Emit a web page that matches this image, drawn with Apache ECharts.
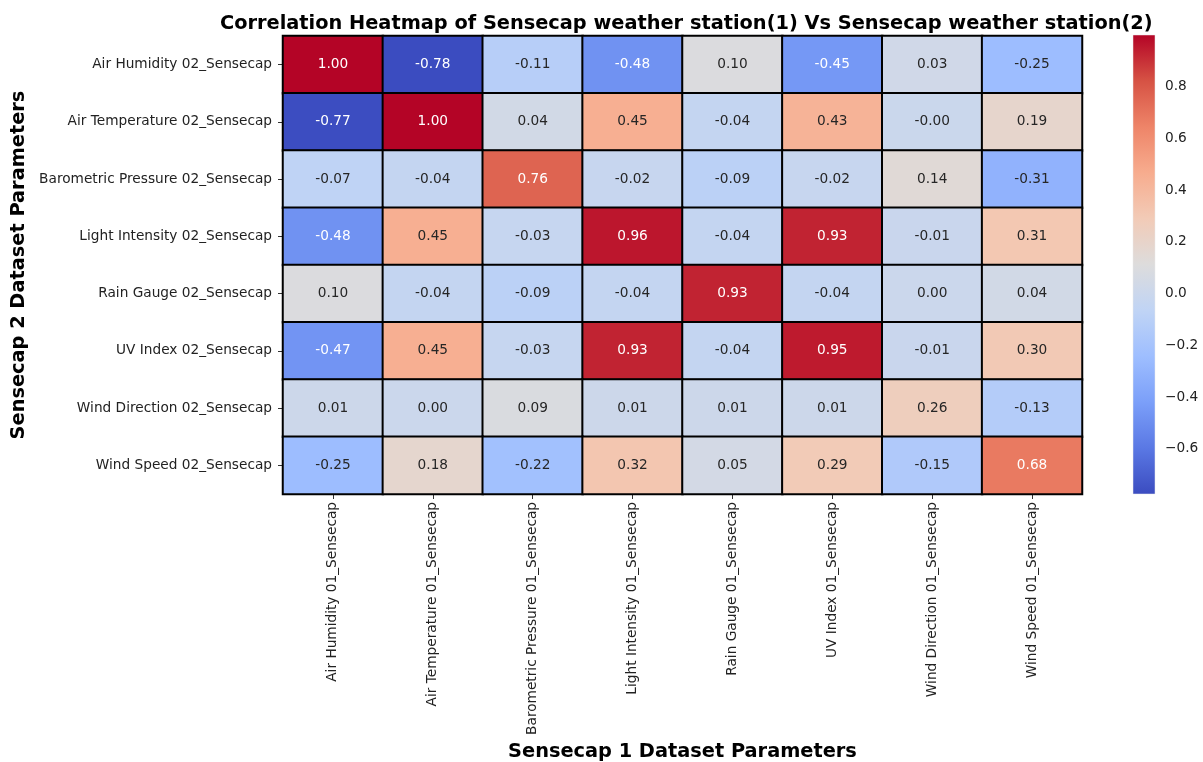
<!DOCTYPE html>
<html>
<head>
<meta charset="utf-8">
<script src="https://cdn.jsdelivr.net/npm/echarts@6/dist/echarts.min.js"></script>
<style>
  html, body { margin: 0; padding: 0; background: #fff; }
  #chart { width: 1203px; height: 762px; }
</style>
</head>
<body>
<div id="chart"></div>
<script>
// columns: Sensecap 1 parameters
var xParams = ['Air Humidity 01_Sensecap', 'Air Temperature 01_Sensecap', 'Barometric Pressure 01_Sensecap',
  'Light Intensity 01_Sensecap', 'Rain Gauge 01_Sensecap', 'UV Index 01_Sensecap',
  'Wind Direction 01_Sensecap', 'Wind Speed 01_Sensecap'];
// rows: Sensecap 2 parameters
var yParams = ['Air Humidity 02_Sensecap', 'Air Temperature 02_Sensecap', 'Barometric Pressure 02_Sensecap',
  'Light Intensity 02_Sensecap', 'Rain Gauge 02_Sensecap', 'UV Index 02_Sensecap',
  'Wind Direction 02_Sensecap', 'Wind Speed 02_Sensecap'];

var rowAirHumidity = [1.00, -0.78, -0.11, -0.48, 0.10, -0.45, 0.03, -0.25];
var rowAirTemp     = [-0.77, 1.00, 0.04, 0.45, -0.04, 0.43, -0.004, 0.19];
var rowBaro        = [-0.07, -0.04, 0.76, -0.02, -0.09, -0.02, 0.14, -0.31];
var rowLight       = [-0.48, 0.45, -0.03, 0.96, -0.04, 0.93, -0.01, 0.31];
var rowRain        = [0.10, -0.04, -0.09, -0.04, 0.93, -0.04, 0.00, 0.04];
var rowUV          = [-0.47, 0.45, -0.03, 0.93, -0.04, 0.95, -0.01, 0.30];
var rowWindDir     = [0.01, 0.00, 0.09, 0.01, 0.01, 0.01, 0.26, -0.13];
var rowWindSpeed   = [-0.25, 0.18, -0.22, 0.32, 0.05, 0.29, -0.15, 0.68];

var colorbarTicks = [-0.6, -0.4, -0.2, 0.0, 0.2, 0.4, 0.6, 0.8];
var vMin = -0.775, vMax = 1.0;

// coolwarm
var coolwarm = ['#3b4cc0', '#5a78e4', '#7b9ff9', '#9ebeff', '#c0d4f5', '#dddcdc',
  '#f2cbb7', '#f7ac8e', '#ee8468', '#d65244', '#b40426'];

var rows = [rowAirHumidity, rowAirTemp, rowBaro, rowLight, rowRain, rowUV, rowWindDir, rowWindSpeed];
var data = [];
for (var i = 0; i < rows.length; i++) {
  for (var j = 0; j < rows[i].length; j++) {
    var v = rows[i][j];
    data.push({
      value: [j, i, v],
      label: { color: (v >= 0.6 || v <= -0.4) ? '#ffffff' : '#262626' }
    });
  }
}

var stops = [];
for (var k = 0; k < coolwarm.length; k++) {
  stops.push({ offset: k / (coolwarm.length - 1), color: coolwarm[k] });
}

var font = 'DejaVu Sans';
var myChart = echarts.init(document.getElementById('chart'));
var option = {
  backgroundColor: '#fff',
  animation: false,
  textStyle: { fontFamily: font },
  title: {
    text: 'Correlation Heatmap of Sensecap weather station(1) Vs Sensecap weather station(2)',
    left: 215,
    top: 9,
    textStyle: { fontFamily: font, fontSize: 19.35, fontWeight: 'bold', color: '#000' }
  },
  grid: [
    { left: 283, top: 36, width: 799, height: 458, outerBoundsMode: 'none', containLabel: false },
    { left: 1133, top: 35, width: 22, height: 459, outerBoundsMode: 'none', containLabel: false }
  ],
  xAxis: [
    {
      type: 'category',
      gridIndex: 0,
      data: xParams,
      position: 'bottom',
      axisLine: { show: false },
      axisTick: { show: true, alignWithLabel: true, length: 5, lineStyle: { color: '#333' } },
      axisLabel: { rotate: 90, interval: 0, margin: 8, fontSize: 13.7, color: '#222', fontFamily: font },
      splitLine: { show: false },
      name: 'Sensecap 1 Dataset Parameters',
      nameLocation: 'middle',
      nameGap: 247,
      nameTextStyle: { fontSize: 19.35, fontWeight: 'bold', color: '#000', fontFamily: font }
    },
    { type: 'value', gridIndex: 1, show: false, min: 0, max: 1 }
  ],
  yAxis: [
    {
      type: 'category',
      gridIndex: 0,
      data: yParams,
      inverse: true,
      axisLine: { show: false },
      axisTick: { show: true, alignWithLabel: true, length: 5, lineStyle: { color: '#333' } },
      axisLabel: { interval: 0, margin: 11, fontSize: 13.7, color: '#222', fontFamily: font },
      splitLine: { show: false },
      name: 'Sensecap 2 Dataset Parameters',
      nameLocation: 'middle',
      nameGap: 243,
      nameTextStyle: { fontSize: 19.35, fontWeight: 'bold', color: '#000', fontFamily: font }
    },
    {
      type: 'value',
      gridIndex: 1,
      position: 'right',
      min: vMin,
      max: vMax,
      axisLine: { show: false },
      splitLine: { show: false },
      axisTick: { show: true, length: 5, customValues: colorbarTicks, lineStyle: { color: '#333' } },
      axisLabel: {
        show: true,
        customValues: colorbarTicks,
        margin: 10,
        fontSize: 13.7,
        color: '#222',
        fontFamily: font,
        formatter: function (v) { return v.toFixed(1).replace('-', '\u2212'); }
      }
    }
  ],
  visualMap: {
    type: 'continuous',
    seriesIndex: 0,
    min: vMin,
    max: vMax,
    show: false,
    inRange: { color: coolwarm }
  },
  series: [
    {
      type: 'heatmap',
      xAxisIndex: 0,
      yAxisIndex: 0,
      data: data,
      itemStyle: { borderColor: '#000', borderWidth: 2 },
      label: {
        show: true,
        fontSize: 13.7,
        fontFamily: font,
        formatter: function (p) { return p.value[2].toFixed(2); }
      },
      emphasis: { disabled: true }
    },
    {
      // colorbar
      type: 'custom',
      xAxisIndex: 1,
      yAxisIndex: 1,
      silent: true,
      data: [[0, vMin]],
      renderItem: function (params, api) {
        var cs = params.coordSys;
        var top = api.coord([0, vMax]);
        var bottom = api.coord([0, vMin]);
        return {
          type: 'rect',
          shape: { x: cs.x, y: top[1], width: cs.width, height: bottom[1] - top[1] },
          style: {
            fill: new echarts.graphic.LinearGradient(0, 1, 0, 0, stops),
            stroke: '#e8e8e8',
            lineWidth: 0.5
          }
        };
      }
    }
  ]
};
myChart.setOption(option);
</script>
</body>
</html>
